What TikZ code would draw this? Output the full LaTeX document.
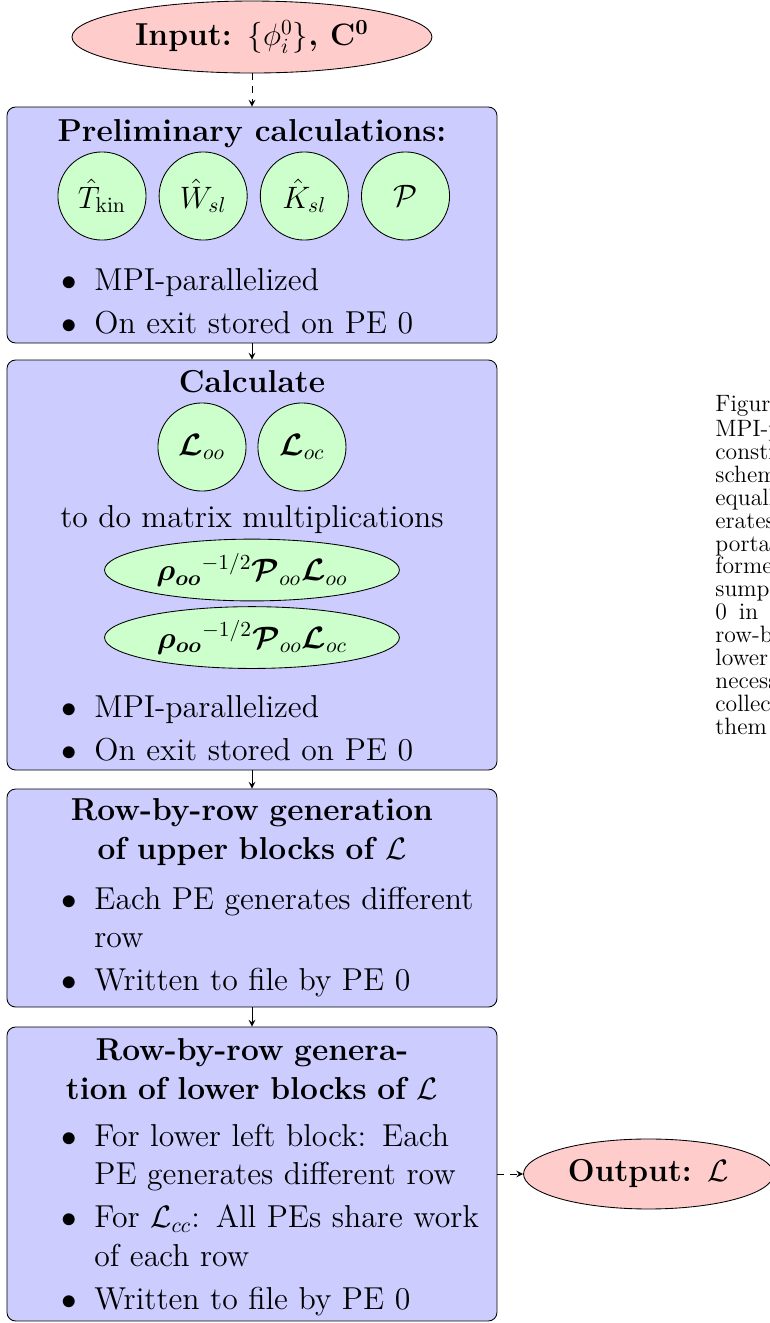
\documentclass[tikz,border=0pt]{standalone}
\usepackage{amsmath,amsfonts}
\usetikzlibrary{arrows, arrows.meta}
\usetikzlibrary{positioning}
\usetikzlibrary{shapes.geometric}
\newcommand{\boxfont}{\fontsize{14.75}{18}\selectfont}
\newenvironment{blist}{\begin{list}{$\bullet$}{\setlength{\leftmargin}{20pt}\setlength{\labelwidth}{10pt}\setlength{\labelsep}{8pt}\setlength{\itemsep}{2pt}\setlength{\parsep}{0pt}\setlength{\topsep}{0pt}\setlength{\partopsep}{0pt}}}{\end{list}}

\begin{document}
\begin{tikzpicture}[scale=1,
	block/.style={draw, rounded corners, fill=blue!20, minimum width=8.01cm},
	term/.style={draw, ellipse, fill=red!20, inner sep=0pt, font=\boxfont\bfseries},
	op/.style={draw, circle, fill=green!20, minimum size=1.44cm, inner sep=0pt, font=\boxfont},
	prod/.style={draw, ellipse, fill=green!20, minimum width=4.82cm, minimum height=1.01cm, inner sep=0pt, font=\boxfont},
	head/.style={inner sep=0pt, font=\boxfont\bfseries},
	txt/.style={inner sep=0pt, font=\boxfont},
	items/.style={inner sep=0pt, anchor=north west, text width=7.6cm, align=left, font=\boxfont},
	flow/.style={-stealth}]
						% page
						\useasboundingbox (0,0) rectangle (12.587,-21.627);
						\clip (0,0) rectangle (12.587,-21.627);
						% draw boxes
						\node[term, minimum width=5.885cm, minimum height=1.177cm] (inp) at (4.119,-0.605) {Input: $\{\phi_i^0\}$, $\mathbf{C^0}$};
						\node[block, minimum height=3.858cm] (pre) at (4.119,-3.678) {};
						\node[block, minimum height=6.702cm] (calc) at (4.119,-9.236) {};
						\node[block, minimum height=3.564cm] (up) at (4.119,-14.680) {};
						\node[block, minimum height=4.806cm] (lw) at (4.119,-19.191) {};
						\node[term, minimum width=4.087cm, minimum height=1.144cm, right=0.42cm of lw] (out) {Output: $\mathcal{L}$};
						% preliminary calculations
						\node[head, anchor=base] (prehead) at (4.119,-2.305) {Preliminary calculations:};
						\node[op] (tkin) at (1.667,-3.204) {$\hat{T}_{\mathrm{kin}}$};
						\node[op, right=0.2cm of tkin] (wsl) {$\hat{W}_{sl}$};
						\node[op, right=0.2cm of wsl] (ksl) {$\hat{K}_{sl}$};
						\node[op, right=0.2cm of ksl] (proj) {$\mathcal{P}$};
						\node[items] (prelist) at (0.833,-4.102) {\begin{blist}\item\strut MPI-parallelized \item On exit stored on PE 0\end{blist}};
						% calculate
						\node[head, anchor=base] (calchead) at (4.119,-6.424) {Calculate};
						\node[op] (loo) at (3.302,-7.307) {$\boldsymbol{\mathcal{L}}_{oo}$};
						\node[op, right=0.18cm of loo] (loc) {$\boldsymbol{\mathcal{L}}_{oc}$};
						\node[txt, anchor=base] (todo) at (4.119,-8.631) {to do matrix multiplications};
						\node[prod] (moo) at (4.119,-9.318) {$\boldsymbol{\rho_{oo}}^{-1/2}\boldsymbol{\mathcal{P}}_{oo}\boldsymbol{\mathcal{L}}_{oo}$};
						\node[prod, below=0.08cm of moo] (moc) {$\boldsymbol{\rho_{oo}}^{-1/2}\boldsymbol{\mathcal{P}}_{oo}\boldsymbol{\mathcal{L}}_{oc}$};
						\node[items] (calclist) at (0.833,-11.082) {\begin{blist}\item\strut MPI-parallelized \item On exit stored on PE 0\end{blist}};
						% upper blocks
						\node[head, anchor=north, text width=8cm, align=center] (uphead) at (4.119,-12.962) {\strut Row-by-row generation\\ of upper blocks of $\mathcal{L}$};
						\node[items] (uplist) at (0.833,-14.221) {\begin{blist}\item\strut Each PE generates different\\ row \item Written to file by PE 0\end{blist}};
						% lower blocks
						\node[head, anchor=north, text width=8cm, align=center] (lwhead) at (4.119,-16.885) {\strut Row-by-row genera-\\ tion of lower blocks of $\mathcal{L}$};
						\node[items] (lwlist) at (0.833,-18.095) {\begin{blist}\item\strut For lower left block: Each\\ PE generates different row \item For $\mathcal{L}_{cc}$: All PEs share work\\ of each row \item Written to file by PE 0\end{blist}};
						% arrows
						\draw[flow, dashed] (inp) -- (pre);
						\draw[flow] (pre) -- (calc);
						\draw[flow] (calc) -- (up);
						\draw[flow] (up) -- (lw);
						\draw[flow, dashed] (lw) -- (out);
						% caption beside the chart
						\node[inner sep=0pt, anchor=north west, text width=4cm, align=left, font=\fontsize{11}{10.65}\selectfont] (cap) at (11.688,-6.45) {\strut Figure\\ MPI-parallelized\\ construction\\ scheme\\ equally\\ erates\\ portant\\ formed\\ sumption\\ 0\hspace{0.5em}in\\ row-by-row\\ lower\\ necessary\\ collected\\ them};
					\end{tikzpicture}
\end{document}
